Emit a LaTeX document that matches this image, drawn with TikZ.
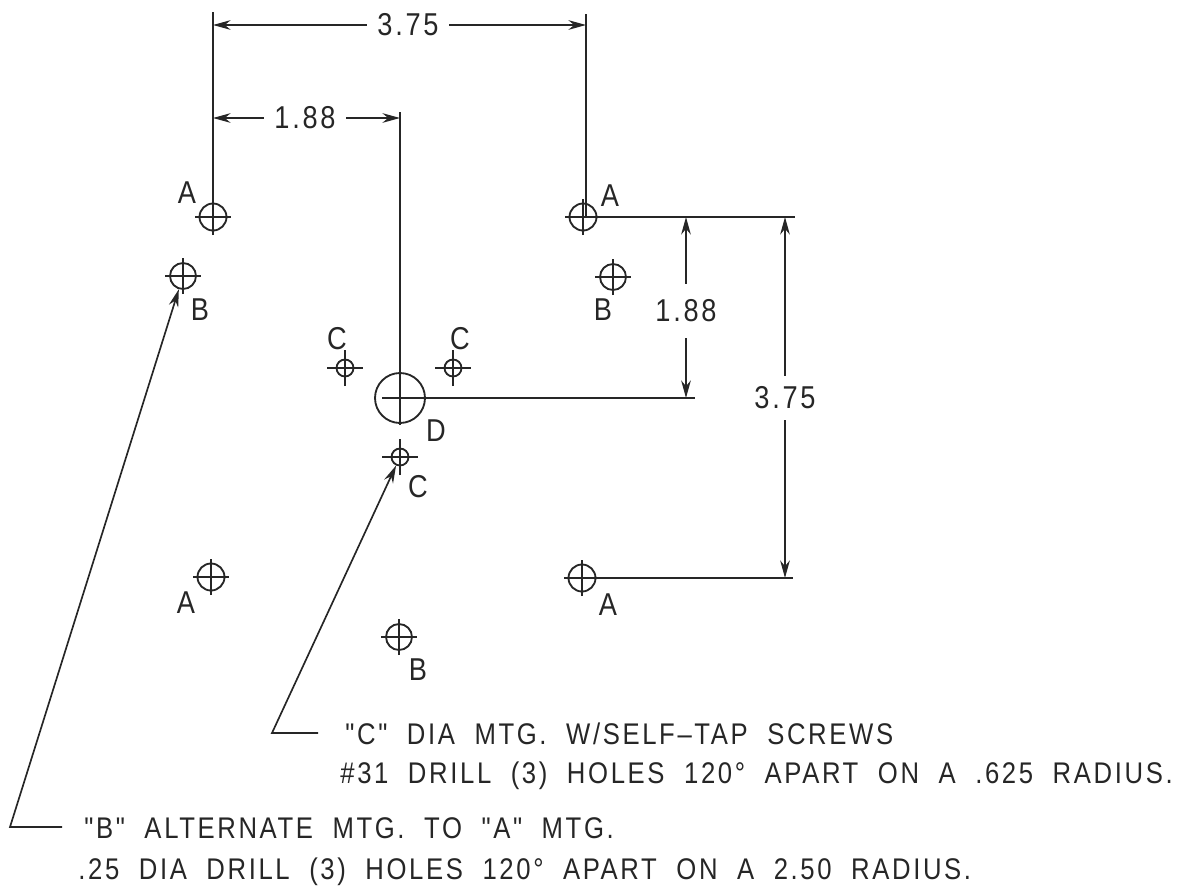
\documentclass[tikz,border=0pt]{standalone}
\usepackage{fontspec}
\defaultfontfeatures[\rmfamily]{}
\setmainfont[FakeStretch=0.86,LetterSpace=8.8,WordSpace=2]{Liberation Sans}
\usetikzlibrary{positioning}
\usetikzlibrary{arrows.meta}
\tikzset{
  dimline/.style={line width=0.95pt, black!85},
  dimarrow/.style={dimline, {Stealth[length=10pt,width=5.5pt]}-},
  hole/.style={draw, circle, inner sep=0pt, line width=1.05pt, black!85},
  lbl/.style={font=\fontsize{18}{18}\selectfont, inner sep=0pt, text=black!85},
  note/.style={lbl, anchor=base west, font=\fontsize{17}{17}\selectfont},
}
\begin{document}
\begin{tikzpicture}[x=0.02cm, y=-0.02cm]
            \useasboundingbox (0,0) rectangle (1194,886);
            % holes
            \node[hole, minimum size=0.54cm] (a1) at (213,217) {};
            \node[hole, minimum size=0.54cm] (a2) at (583,217) {};
            \node[hole, minimum size=0.54cm] (a3) at (211,577) {};
            \node[hole, minimum size=0.54cm] (a4) at (582,578) {};
            \node[hole, minimum size=0.52cm] (b1) at (183,276) {};
            \node[hole, minimum size=0.52cm] (b2) at (613,277) {};
            \node[hole, minimum size=0.52cm] (b3) at (399,637) {};
            \node[hole, minimum size=0.34cm] (c1) at (345,368) {};
            \node[hole, minimum size=0.34cm] (c2) at (453,368) {};
            \node[hole, minimum size=0.34cm] (c3) at (400,457) {};
            \node[hole, minimum size=1.0cm] (d) at (400,398) {};

            % centre marks
            \foreach \h in {a1,a2,a3,a4,b1,b2,b3,c1,c2,c3} {
                \draw[dimline] ([xshift=-0.36cm]\h.center) -- ([xshift=0.36cm]\h.center);
                \draw[dimline] ([yshift=-0.36cm]\h.center) -- ([yshift=0.36cm]\h.center);
            }

            % hole letters
            \node[lbl] (la1) at (187,193) {A};
            \node[lbl] (la2) at (610,196) {A};
            \node[lbl] (la3) at (186,603) {A};
            \node[lbl] (la4) at (608,605) {A};
            \node[lbl] (lb1) at (200,310) {B};
            \node[lbl] (lb2) at (603,310) {B};
            \node[lbl] (lb3) at (418,670) {B};
            \node[lbl] (lc1) at (337,339) {C};
            \node[lbl] (lc2) at (460,339) {C};
            \node[lbl] (lc3) at (418,487) {C};
            \node[lbl] (ld) at (436,431) {D};

            % extension lines
            \coordinate (e1) at (213,12);
            \coordinate (e2) at (586,14);
            \coordinate (e3) at (400,112);
            \coordinate (e4) at (795,217);
            \coordinate (e5) at (695,398);
            \coordinate (e6) at (793,578);
            \draw[dimline] (a1.center) -- (e1);
            \draw[dimline] (a2.center -| e2) -- (e2);
            \draw[dimline] ([yshift=-0.54cm]d.center) -- (e3);
            \draw[dimline] (a2.east) -- (e4);
            \draw[dimline] ([xshift=-0.36cm]d.center) -- (e5);
            \draw[dimline] (a4.east) -- (e6);

            % dimensions
            \node[lbl] (w1) at (408,25) {3.75};
            \node[lbl] (w2) at (305,118) {1.88};
            \node[lbl] (h1) at (686,311) {1.88};
            \node[lbl] (h2) at (785,398) {3.75};
            \draw[dimarrow] (e1 |- w1) -- ([xshift=-0.2cm]w1.west);
            \draw[dimarrow] (e2 |- w1) -- ([xshift=0.2cm]w1.east);
            \draw[dimarrow] (e1 |- w2) -- ([xshift=-0.2cm]w2.west);
            \draw[dimarrow] (e3 |- w2) -- ([xshift=0.2cm]w2.east);
            \draw[dimarrow] (h1 |- e4) -- ([yshift=0.3cm]h1.north);
            \draw[dimarrow] (h1 |- e5) -- ([yshift=-0.3cm]h1.south);
            \draw[dimarrow] (h2 |- e4) -- ([yshift=0.2cm]h2.north);
            \draw[dimarrow] (h2 |- e6) -- ([yshift=-0.2cm]h2.south);

            % notes
            \node[note] (n1) at (345,744) {"C" DIA MTG. W/SELF–TAP SCREWS};
            \node[note] (n2) at (340,783) {\#31 DRILL (3) HOLES 120° APART ON A .625 RADIUS.};
            \node[note] (n3) at (84,838) {"B" ALTERNATE MTG. TO "A" MTG.};
            \node[note] (n4) at (78,879) {.25 DIA DRILL (3) HOLES 120° APART ON A 2.50 RADIUS.};

            % leaders
            \coordinate (k1) at (272,733);
            \coordinate (k2) at (10,827);
            \coordinate (s1) at (318,733);
            \coordinate (s2) at (62,827);
            \draw[dimarrow] (c3) -- (k1) -- (s1);
            \draw[dimarrow] (b1) -- (k2) -- (s2);
        \end{tikzpicture}
\end{document}
